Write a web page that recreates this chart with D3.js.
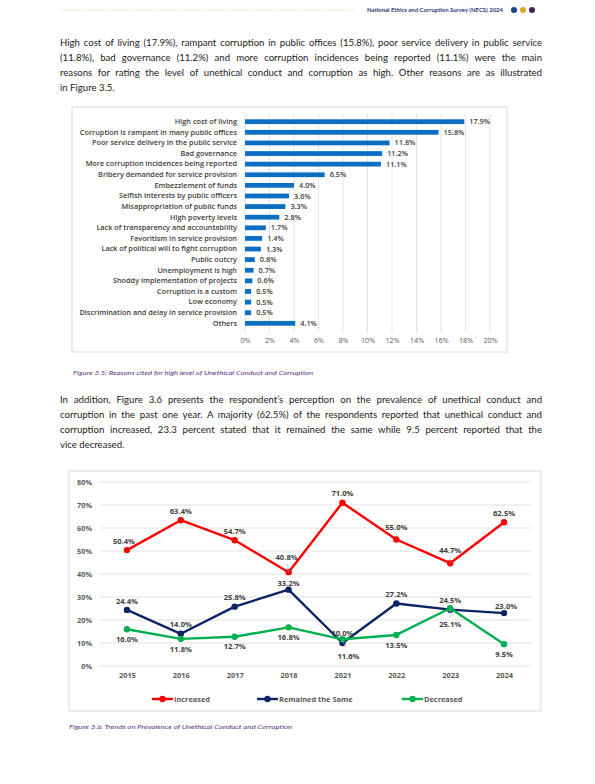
<!DOCTYPE html>
<html>
<head>
<meta charset="utf-8">
<script src="https://cdn.jsdelivr.net/npm/d3@7"></script>
<style>
	body { margin: 0; background: #fff; }
	svg { display: block; }
</style>
</head>
<body>
<div id="page"></div>
<script>
// ---- data ----
const barCategories = [
	"High cost of living",
	"Corruption is rampant in many public offices",
	"Poor service delivery in the public service",
	"Bad governance",
	"More corruption incidences being reported",
	"Bribery demanded for service provision",
	"Embezzlement of funds",
	"Selfish interests by public officers",
	"Misappropriation of public funds",
	"High poverty levels",
	"Lack of transparency and accountability",
	"Favoritism in service provision",
	"Lack of political will to fight corruption",
	"Public outcry",
	"Unemployment is high",
	"Shoddy implementation of projects",
	"Corruption is a custom",
	"Low economy",
	"Discrimination and delay in service provision",
	"Others"
]
const barValues = [17.9, 15.8, 11.8, 11.2, 11.1, 6.5, 4.0, 3.6, 3.3, 2.8, 1.7, 1.4, 1.3, 0.8, 0.7, 0.6, 0.5, 0.5, 0.5, 4.1]
const barTicks = [0, 2, 4, 6, 8, 10, 12, 14, 16, 18, 20]

const years = ["2015", "2016", "2017", "2018", "2021", "2022", "2023", "2024"]
const increased = [50.4, 63.4, 54.7, 40.8, 71.0, 55.0, 44.7, 62.5]
const remainedSame = [24.4, 14.0, 25.8, 33.2, 10.0, 27.2, 24.5, 23.0]
const decreased = [16.0, 11.8, 12.7, 16.8, 11.6, 13.5, 25.1, 9.5]
const lineTicks = [0, 10, 20, 30, 40, 50, 60, 70, 80]
const seriesNames = ["Increased", "Remained the Same", "Decreased"]

const para1 = [
	"High cost of living (17.9%), rampant corruption in public offices (15.8%), poor service delivery in public service",
	"(11.8%), bad governance (11.2%) and more corruption incidences being reported (11.1%) were the main",
	"reasons for rating the level of unethical conduct and corruption as high. Other reasons are as illustrated",
	"in Figure 3.5."
]
const para2 = [
	"In addition, Figure 3.6 presents the respondent\u2019s perception on the prevalence of unethical conduct and",
	"corruption in the past one year. A majority (62.5%) of the respondents reported that unethical conduct and",
	"corruption increased, 23.3 percent stated that it remained the same while 9.5 percent reported that the",
	"vice decreased."
]
const caption1 = "Figure 3.5: Reasons cited for high level of Unethical Conduct and Corruption"
const caption2 = "Figure 3.6: Trends on Prevalence of Unethical Conduct and Corruption"
const headerText = "National Ethics and Corruption Survey (NECS) 2024"

// ---- page ----
const W = 595, H = 784
const svg = d3.select("#page").append("svg")
	.attr("width", W)
	.attr("height", H)

const TEXT_FONT = "Lato, 'Open Sans', sans-serif"
const CHART_FONT = "'Open Sans', 'Noto Sans', sans-serif"

// header
svg.append("line")
	.attr("x1", 62).attr("x2", 355)
	.attr("y1", 10).attr("y2", 10)
	.attr("stroke", "#d8a935")
	.attr("stroke-width", 0.8)
	.attr("stroke-dasharray", "0.8 1.6")
svg.append("text")
	.attr("x", 367).attr("y", 12)
	.attr("font-family", TEXT_FONT)
	.attr("font-size", "5.8px")
	.attr("font-weight", 700)
	.attr("fill", "#1f3a78")
	.attr("textLength", 136)
	.attr("lengthAdjust", "spacingAndGlyphs")
	.text(headerText)
const dotColors = ["#1e3d86", "#e0a526", "#4a1e5e"]
svg.selectAll(".hdot").data(dotColors).enter().append("circle")
	.attr("cx", (d, i) => 514 + i * 9)
	.attr("cy", 10)
	.attr("r", 3)
	.attr("fill", d => d)

// paragraphs, justified by word spacing
function paragraph(lines, x, y0, lineH, width) {
	const g = svg.append("g")
		.attr("font-family", TEXT_FONT)
		.attr("font-size", "9.6px")
		.attr("fill", "#222")
	g.selectAll("text").data(lines).enter().append("text")
		.attr("x", x)
		.attr("y", (d, i) => y0 + i * lineH)
		.text(d => d)
		.each(function (d, i) {
			if (i === lines.length - 1) return
			const spaces = (d.match(/ /g) || []).length
			const w = this.getComputedTextLength()
			d3.select(this).style("word-spacing", ((width - w) / spaces) + "px")
		})
}
paragraph(para1, 60, 45.5, 15, 482)
paragraph(para2, 60, 403, 15, 482)

function caption(text, x, y, len) {
	svg.append("text")
		.attr("x", x).attr("y", y)
		.attr("font-family", TEXT_FONT)
		.attr("font-size", "6.3px")
		.attr("font-style", "italic")
		.attr("fill", "#5b2f80")
		.attr("textLength", len)
		.attr("lengthAdjust", "spacingAndGlyphs")
		.text(text)
}
caption(caption1, 73, 375, 240)
caption(caption2, 69, 729, 223)

// ---- bar chart (Figure 3.5) ----
const bar = svg.append("g").attr("font-family", CHART_FONT)
bar.append("rect")
	.attr("x", 72).attr("y", 107)
	.attr("width", 435).attr("height", 245)
	.attr("fill", "none")
	.attr("stroke", "#d9d9d9")

const bx = d3.scaleLinear().domain([0, 20]).range([245, 490])
const by = d3.scaleBand().domain(barCategories).range([114, 331]).paddingInner(0.55).paddingOuter(0.5)

bar.selectAll(".grid").data(barTicks).enter().append("line")
	.attr("x1", d => bx(d)).attr("x2", d => bx(d))
	.attr("y1", 114).attr("y2", 333)
	.attr("stroke", "#d9d9d9")
	.attr("stroke-width", 0.7)

const bxAxis = d3.axisBottom(bx).tickValues(barTicks).tickFormat(d => d + "%").tickSize(0).tickPadding(0)
bar.append("g")
	.attr("transform", "translate(0, 338)")
	.call(bxAxis)
	.call(g => g.select(".domain").remove())
	.selectAll("text")
	.attr("font-size", "7.2px")
	.attr("font-family", CHART_FONT)
	.attr("fill", "#595959")

const byAxis = d3.axisLeft(by).tickSize(0).tickPadding(8)
bar.append("g")
	.attr("transform", `translate(${bx(0)}, 0)`)
	.call(byAxis)
	.call(g => g.select(".domain").remove())
	.selectAll("text")
	.attr("font-size", "7.3px")
	.attr("font-weight", 600)
	.attr("font-family", CHART_FONT)
	.attr("fill", "#404040")

bar.selectAll(".bar").data(barValues).enter().append("rect")
	.attr("x", bx(0))
	.attr("y", (d, i) => by(barCategories[i]))
	.attr("width", d => bx(d) - bx(0))
	.attr("height", by.bandwidth())
	.attr("fill", "#0a6fc2")

bar.selectAll(".val").data(barValues).enter().append("text")
	.attr("x", d => bx(d) + 5)
	.attr("y", (d, i) => by(barCategories[i]) + by.bandwidth() / 2)
	.attr("dy", "0.35em")
	.attr("font-size", "7.3px")
	.attr("font-weight", 600)
	.attr("fill", "#404040")
	.text(d => d.toFixed(1) + "%")

// ---- line chart (Figure 3.6) ----
const lc = svg.append("g").attr("font-family", CHART_FONT)
lc.append("rect")
	.attr("x", 69).attr("y", 471)
	.attr("width", 472).attr("height", 240)
	.attr("fill", "none")
	.attr("stroke", "#d9d9d9")

const lx = d3.scalePoint().domain(years).range([100, 531]).padding(0.5)
const ly = d3.scaleLinear().domain([0, 80]).range([666, 482])

lc.selectAll(".grid").data(lineTicks).enter().append("line")
	.attr("x1", 100).attr("x2", 531)
	.attr("y1", d => ly(d)).attr("y2", d => ly(d))
	.attr("stroke", "#d9d9d9")
	.attr("stroke-width", 0.8)

lc.append("g")
	.attr("transform", "translate(100, 0)")
	.call(d3.axisLeft(ly).tickValues(lineTicks).tickFormat(d => d + "%").tickSize(0).tickPadding(8))
	.call(g => g.select(".domain").remove())
	.selectAll("text")
	.attr("font-size", "7.3px")
	.attr("font-weight", 700)
	.attr("font-family", CHART_FONT)
	.attr("fill", "#595959")

lc.append("g")
	.attr("transform", "translate(0, 673)")
	.call(d3.axisBottom(lx).tickSize(0).tickPadding(0))
	.call(g => g.select(".domain").remove())
	.selectAll("text")
	.attr("font-size", "7.4px")
	.attr("font-weight", 700)
	.attr("font-family", CHART_FONT)
	.attr("fill", "#595959")

const series = [
	{ name: seriesNames[0], values: increased, color: "#ff0000", side: -1 },
	{ name: seriesNames[1], values: remainedSame, color: "#0b2466", side: -1 },
	{ name: seriesNames[2], values: decreased, color: "#00b050", side: 1 }
]
// labels Excel moved off their default spot: "series-index": [dx, dy]
const moved = {
	"0-0": [-3, -9], "0-3": [-2, -15], "0-5": [0, -12], "0-6": [0, -13],
	"1-3": [0, -6], "1-4": [0, -10], "1-7": [2, -7],
	"2-4": [6, 17], "2-6": [0, 16]
}

const line = d3.line().x((d, i) => lx(years[i])).y(d => ly(d))

series.forEach((s, si) => {
	lc.append("path")
		.attr("d", line(s.values))
		.attr("fill", "none")
		.attr("stroke", s.color)
		.attr("stroke-width", 2.4)
		.attr("stroke-linejoin", "round")
	lc.selectAll(".m" + si).data(s.values).enter().append("circle")
		.attr("cx", (d, i) => lx(years[i]))
		.attr("cy", d => ly(d))
		.attr("r", 3.2)
		.attr("fill", s.color)
})

// data labels on top of lines
series.forEach((s, si) => {
	s.values.forEach((v, i) => {
		const key = si + "-" + i
		const off = moved[key] || [0, s.side < 0 ? -9 : 10]
		const px = lx(years[i]), py = ly(v)
		if (Math.abs(off[1]) > 12) {
			lc.append("line")
				.attr("x1", px).attr("y1", py)
				.attr("x2", px + off[0] * 0.6).attr("y2", py + off[1] * 0.55)
				.attr("stroke", "#a6a6a6")
				.attr("stroke-width", 0.6)
		}
		lc.append("text")
			.attr("x", px + off[0])
			.attr("y", py + off[1])
			.attr("dy", "0.35em")
			.attr("text-anchor", "middle")
			.attr("font-size", "7.6px")
			.attr("font-weight", 700)
			.attr("fill", "#404040")
			.text(v.toFixed(1) + "%")
	})
})

// legend
const legX = [152, 257, 402]
const leg = lc.selectAll(".leg").data(series).enter().append("g")
	.attr("transform", (d, i) => `translate(${legX[i]}, 699)`)
leg.append("line")
	.attr("x1", 0).attr("x2", 21)
	.attr("stroke", d => d.color)
	.attr("stroke-width", 2.4)
leg.append("circle")
	.attr("cx", 10.5).attr("r", 3.2)
	.attr("fill", d => d.color)
leg.append("text")
	.attr("x", 22)
	.attr("dy", "0.35em")
	.attr("font-size", "7.4px")
	.attr("font-weight", 700)
	.attr("fill", "#595959")
	.text(d => d.name)
</script>
</body>
</html>
